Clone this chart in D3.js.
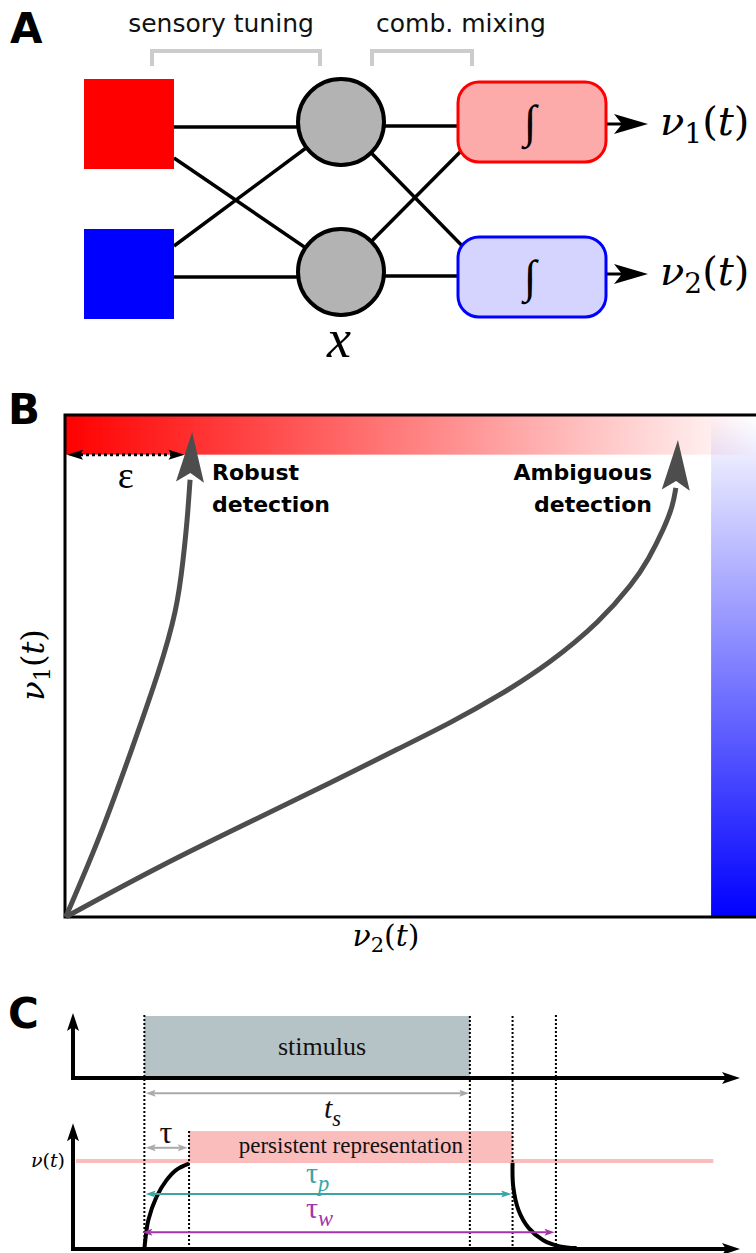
<!DOCTYPE html>
<html><head><meta charset="utf-8">
<script src="https://cdn.jsdelivr.net/npm/d3@7"></script>
<style>body{margin:0;background:#fff}svg{display:block}</style>
</head><body><svg id="c" width="756" height="1253"></svg>
<script>
// ================= DATA =================
// Panel A : network
const inputUnits = ["input 1", "input 2"];
const hiddenUnits = ["x1", "x2"];
const outputSubscripts = ["1", "2"];
const sensoryLinks = [[0, 0], [0, 1], [1, 0], [1, 1]];
const mixingLinks = [[0, 0], [0, 1], [1, 0], [1, 1]];
const bracketLabels = ["sensory tuning", "comb. mixing"];

// Panel B : trajectories (nu2, nu1 in % of plotted range)
const robustNu2 = [0.1, 5.1, 9.8, 13.7, 16.2, 17.1, 17.7, 18.1, 18.4];
const robustNu1 = [0, 15.9, 33.9, 49.2, 61.2, 71.1, 79.1, 87.1, 96.6];
const ambiguousNu2 = [0.1, 13.7, 28.2, 38.4, 48.5, 55.7, 63.0, 70.2, 77.4, 82.2, 84.4, 86.8, 88.0, 88.4, 88.7];
const ambiguousNu1 = [0, 10.2, 19.9, 26.7, 33.7, 38.6, 44.2, 50.6, 58.8, 66.5, 71.1, 77.7, 82.1, 85.5, 95.0];
const epsilon = 17.3;        // width of the robust band along nu2
const nu1BandStart = 92.1;   // red detection band (nu1)
const nu2BandStart = 93.5;   // blue detection band (nu2)
const trajectoryLabels = [["Robust", "detection"], ["Ambiguous", "detection"]];

// Panel C : timing (time in arbitrary units 0..100)
const stimulusOn = 10.7, stimulusOff = 59.5;
const tauEnd = 17.4, persistEnd = 65.9, windowEnd = 72.4;
const riseT = [10.7, 10.9, 11.3, 12.5, 14.0, 15.5, 17.4];
const riseNu = [0, 0.14, 0.33, 0.59, 0.78, 0.90, 0.97];
const decayT = [65.9, 66.0, 66.8, 68.3, 70.5, 73.0, 75.5];
const decayNu = [0.98, 0.71, 0.44, 0.24, 0.10, 0.03, 0.01];
const threshold = 1.0;
const persistTop = 1.34;

// ================= HELPERS =================
const svg = d3.select("#c");
const SERIF = "'Liberation Serif','DejaVu Serif',serif";
const MATH = "'DejaVu Serif','Liberation Serif',serif";
const SANS = "'DejaVu Sans',sans-serif";

function headPath(tip, from, L, W, notch) {
  const dx = tip[0] - from[0], dy = tip[1] - from[1], len = Math.hypot(dx, dy);
  const ux = dx / len, uy = dy / len, px = -uy, py = ux;
  const bx = tip[0] - ux * L, by = tip[1] - uy * L;
  const nx = tip[0] - ux * (L - notch), ny = tip[1] - uy * (L - notch);
  return `M${tip[0]},${tip[1]}L${bx + px * W / 2},${by + py * W / 2}L${nx},${ny}L${bx - px * W / 2},${by - py * W / 2}Z`;
}
function arrow(g, p1, p2, o) {
  const dx = p2[0] - p1[0], dy = p2[1] - p1[1], len = Math.hypot(dx, dy);
  const ux = dx / len, uy = dy / len, back = o.L - o.notch;
  const s = o.both ? [p1[0] + ux * back, p1[1] + uy * back] : p1;
  const e = [p2[0] - ux * back, p2[1] - uy * back];
  g.append("line").attr("x1", s[0]).attr("y1", s[1]).attr("x2", e[0]).attr("y2", e[1])
    .attr("stroke", o.color).attr("stroke-width", o.width)
    .attr("stroke-dasharray", o.dash || null);
  g.append("path").attr("d", headPath(p2, p1, o.L, o.W, o.notch)).attr("fill", o.color);
  if (o.both) g.append("path").attr("d", headPath(p1, p2, o.L, o.W, o.notch)).attr("fill", o.color);
}
function nuText(t, sub, size) {
  t.append("tspan").attr("font-style", "italic").text("ν");
  if (sub) t.append("tspan").attr("font-size", size * 0.7).attr("dy", size * 0.2).text(sub);
  t.append("tspan").attr("dy", sub ? -size * 0.2 : null).text("(");
  t.append("tspan").attr("font-style", "italic").text("t");
  t.append("tspan").text(")");
}
function panelLetter(txt, x, y) {
  svg.append("text").attr("x", x).attr("y", y).attr("font-family", SANS)
    .attr("font-weight", "bold").attr("font-size", 42).text(txt);
}

// ================= PANEL A =================
panelLetter("A", 10, 43);
const gA = svg.append("g");
const layerX = d3.scaleOrdinal().domain(["input", "hidden", "output"]).range([129, 341, 532]);
const rowY = d3.scalePoint().domain([0, 1]).range([124, 274]);
const inColors = ["#ff0000", "#0000ff"];
const outFill = ["#fcaaaa", "#d4d4ff"];
const outStroke = ["#ff0000", "#0000ff"];
const sq = 90, rad = 43, rw = 150, rh = 80;

// brackets
const brackets = [[152, 320], [372, 472]];
const brTextX = [221, 461];
bracketLabels.forEach((lab, i) => {
  gA.append("path").attr("d", `M${brackets[i][0]},66V51H${brackets[i][1]}V66`)
    .attr("fill", "none").attr("stroke", "#cccccc").attr("stroke-width", 4);
  gA.append("text").attr("x", brTextX[i]).attr("y", 32).attr("text-anchor", "middle")
    .attr("font-family", SANS).attr("font-size", 25).attr("fill", "#111").text(lab);
});

// links input -> hidden
sensoryLinks.forEach(([i, j]) => {
  const x1 = layerX("input") + sq / 2;
  if (i === j) {
    gA.append("line").attr("x1", x1).attr("y1", rowY(i) + 3).attr("x2", layerX("hidden")).attr("y2", rowY(j) + 3)
      .attr("stroke", "#000").attr("stroke-width", 3.5);
  } else {
    const y1 = rowY(i) + (i < j ? 34 : -28);
    gA.append("line").attr("x1", x1).attr("y1", y1).attr("x2", layerX("hidden")).attr("y2", rowY(j) - 2)
      .attr("stroke", "#000").attr("stroke-width", 3.5);
  }
});
// links hidden -> output
mixingLinks.forEach(([i, j]) => {
  if (i === j) {
    gA.append("line").attr("x1", layerX("hidden")).attr("y1", rowY(i) + 2).attr("x2", layerX("output")).attr("y2", rowY(j) + 2)
      .attr("stroke", "#000").attr("stroke-width", 3.5);
  } else {
    const y2 = i < j ? rowY(j) - 14 : rowY(j) + 12;
    gA.append("line").attr("x1", layerX("hidden")).attr("y1", rowY(i) - 2).attr("x2", 476).attr("y2", y2)
      .attr("stroke", "#000").attr("stroke-width", 3.5);
  }
});
// input squares
gA.selectAll("rect.in").data(inputUnits).join("rect").attr("class", "in")
  .attr("x", layerX("input") - sq / 2).attr("y", (d, i) => rowY(i) - sq / 2)
  .attr("width", sq).attr("height", sq).attr("fill", (d, i) => inColors[i]);
// hidden circles
gA.selectAll("circle.h").data(hiddenUnits).join("circle").attr("class", "h")
  .attr("cx", layerX("hidden")).attr("cy", (d, i) => rowY(i) - 2).attr("r", rad)
  .attr("fill", "#b3b3b3").attr("stroke", "#000").attr("stroke-width", 4);
// output integrators
outputSubscripts.forEach((s, i) => {
  const cy = rowY(i) + (i === 0 ? -2 : 3);
  gA.append("rect").attr("x", layerX("output") - rw / 2 + 1).attr("y", cy - rh / 2)
    .attr("width", rw - 2).attr("height", rh).attr("rx", 21).attr("ry", 21)
    .attr("fill", outFill[i]).attr("stroke", outStroke[i]).attr("stroke-width", 3);
  gA.append("text").attr("x", layerX("output") - 2).attr("y", cy + 15).attr("text-anchor", "middle")
    .attr("font-family", SERIF).attr("font-size", 46).attr("font-weight", "normal").text("∫");
  arrow(gA, [layerX("output") + rw / 2, rowY(i)], [648, rowY(i)], { color: "#000", width: 3, L: 34, W: 20, notch: 8 });
  const t = gA.append("text").attr("x", 660).attr("y", rowY(i) + 11)
    .attr("font-family", MATH).attr("font-size", 40);
  nuText(t, s, 40);
});
gA.append("text").attr("x", 339).attr("y", 357).attr("text-anchor", "middle")
  .attr("font-family", SERIF).attr("font-style", "italic").attr("font-size", 54).text("x");

// ================= PANEL B =================
panelLetter("B", 8, 424);
const gB = svg.append("g");
const xB = d3.scaleLinear().domain([0, 100]).range([65, 756]);
const yB = d3.scaleLinear().domain([0, 100]).range([917, 415]);
const defs = svg.append("defs");
const rg = defs.append("linearGradient").attr("id", "redGrad").attr("gradientUnits", "userSpaceOnUse")
  .attr("x1", xB(0)).attr("x2", xB(100)).attr("y1", 0).attr("y2", 0);
rg.append("stop").attr("offset", 0).attr("stop-color", "#ff0000").attr("stop-opacity", 1);
rg.append("stop").attr("offset", 1).attr("stop-color", "#ff0000").attr("stop-opacity", 0);
const bg = defs.append("linearGradient").attr("id", "blueGrad").attr("gradientUnits", "userSpaceOnUse")
  .attr("x1", 0).attr("x2", 0).attr("y1", yB(100)).attr("y2", yB(0));
bg.append("stop").attr("offset", 0).attr("stop-color", "#0000ff").attr("stop-opacity", 0);
bg.append("stop").attr("offset", 1).attr("stop-color", "#0000ff").attr("stop-opacity", 1);

gB.append("rect").attr("x", xB(0)).attr("y", yB(100)).attr("width", xB(100) - xB(0))
  .attr("height", yB(nu1BandStart) - yB(100)).attr("fill", "url(#redGrad)");
gB.append("rect").attr("x", xB(nu2BandStart)).attr("y", yB(100)).attr("width", xB(100) - xB(nu2BandStart))
  .attr("height", yB(0) - yB(100)).attr("fill", "url(#blueGrad)");

// frame
gB.append("path").attr("d", `M${xB(100) + 10},${yB(100)}H${xB(0)}V${yB(0)}H${xB(100) + 10}`)
  .attr("fill", "none").attr("stroke", "#000").attr("stroke-width", 3);

// epsilon arrow
arrow(gB, [xB(0) + 2, yB(nu1BandStart)], [xB(epsilon), yB(nu1BandStart)],
  { color: "#000", width: 3, L: 16, W: 10, notch: 3, both: true, dash: "3,3" });
gB.append("text").attr("x", xB(epsilon / 2) + 1).attr("y", 488).attr("text-anchor", "middle")
  .attr("font-family", SERIF).attr("font-size", 38).text("ε");

// trajectories
const lineB = d3.line().x(d => xB(d[0])).y(d => yB(d[1])).curve(d3.curveBasis);
[[robustNu2, robustNu1], [ambiguousNu2, ambiguousNu1]].forEach(([xs, ys]) => {
  const pts = xs.map((v, i) => [v, ys[i]]);
  const body = pts.slice(0, -1);
  gB.append("path").attr("d", lineB(body)).attr("fill", "none")
    .attr("stroke", "#4d4d4d").attr("stroke-width", 5);
  const tip = [xB(pts[pts.length - 1][0]), yB(pts[pts.length - 1][1])];
  const from = [xB(pts[pts.length - 2][0]), yB(pts[pts.length - 2][1])];
  gB.append("path").attr("d", headPath(tip, from, 50, 28, 9)).attr("fill", "#4d4d4d");
});
// labels
const lab1 = gB.append("text").attr("font-family", SANS).attr("font-weight", "bold").attr("font-size", 22);
lab1.append("tspan").attr("x", 212).attr("y", 480).text(trajectoryLabels[0][0]);
lab1.append("tspan").attr("x", 212).attr("y", 512).text(trajectoryLabels[0][1]);
const lab2 = gB.append("text").attr("font-family", SANS).attr("font-weight", "bold").attr("font-size", 22)
  .attr("text-anchor", "end");
lab2.append("tspan").attr("x", 652).attr("y", 480).text(trajectoryLabels[1][0]);
lab2.append("tspan").attr("x", 652).attr("y", 512).text(trajectoryLabels[1][1]);
// axis labels
const yl = gB.append("text").attr("transform", "translate(44,665) rotate(-90)").attr("text-anchor", "middle")
  .attr("font-family", MATH).attr("font-size", 32);
nuText(yl, "1", 32);
const xl = gB.append("text").attr("x", 386).attr("y", 946).attr("text-anchor", "middle")
  .attr("font-family", MATH).attr("font-size", 30);
nuText(xl, "2", 30);

// ================= PANEL C =================
panelLetter("C", 8, 1028);
const gC = svg.append("g");
const xC = d3.scaleLinear().domain([0, 100]).range([73, 740]);
const yTop = d3.scaleLinear().domain([0, 1]).range([1078, 1016]);
const yBot = d3.scaleLinear().domain([0, 1]).range([1249, 1161]);

// stimulus
gC.append("rect").attr("x", xC(stimulusOn)).attr("y", yTop(1)).attr("width", xC(stimulusOff) - xC(stimulusOn))
  .attr("height", yTop(0) - yTop(1)).attr("fill", "#b6c3c6");
gC.append("text").attr("x", 322).attr("y", yTop(0.37)).attr("text-anchor", "middle")
  .attr("font-family", SERIF).attr("font-size", 26).attr("fill", "#111").text("stimulus");

// threshold line & persistent representation
gC.append("line").attr("x1", xC(0.45)).attr("x2", xC(96)).attr("y1", yBot(threshold)).attr("y2", yBot(threshold))
  .attr("stroke", "#fbbcbc").attr("stroke-width", 4);
gC.append("rect").attr("x", xC(tauEnd)).attr("y", yBot(persistTop)).attr("width", xC(persistEnd) - xC(tauEnd))
  .attr("height", yBot(0.98) - yBot(persistTop)).attr("fill", "#fbbcbc");
gC.append("text").attr("x", (xC(tauEnd) + xC(persistEnd)) / 2).attr("y", 1153).attr("text-anchor", "middle")
  .attr("font-family", SERIF).attr("font-size", 23).attr("fill", "#111").text("persistent representation");

// dotted guides
[[stimulusOn, yTop(1) - 1], [stimulusOff, yTop(1)], [persistEnd, yTop(1)], [windowEnd, yTop(1) - 1], [tauEnd, yBot(persistTop)]]
  .forEach(([t, y0]) => {
    gC.append("line").attr("x1", xC(t)).attr("x2", xC(t)).attr("y1", y0).attr("y2", yBot(0))
      .attr("stroke", "#000").attr("stroke-width", 2).attr("stroke-dasharray", "2,2");
  });

// curves
const lineC = d3.line().x(d => xC(d[0])).y(d => yBot(d[1])).curve(d3.curveCatmullRom.alpha(0.5));
gC.append("path").attr("d", lineC(riseT.map((t, i) => [t, riseNu[i]]))).attr("fill", "none")
  .attr("stroke", "#000").attr("stroke-width", 4);
gC.append("path").attr("d", lineC(decayT.map((t, i) => [t, decayNu[i]]))).attr("fill", "none")
  .attr("stroke", "#000").attr("stroke-width", 4);

// axes
const axOpt = { color: "#000", width: 4, L: 18, W: 12, notch: 4 };
arrow(gC, [xC(0), yTop(0) + 2], [xC(0), yTop(1.05)], axOpt);
arrow(gC, [xC(0) - 2, yTop(0)], [xC(100), yTop(0)], axOpt);
arrow(gC, [xC(0), yBot(0) + 2], [xC(0), yBot(1.43)], axOpt);
arrow(gC, [xC(0) - 2, yBot(0)], [xC(100), yBot(0)], axOpt);

// measurement arrows
const small = { width: 2, L: 10, W: 7, notch: 2, both: true };
arrow(gC, [xC(10.9), yBot(1.77)], [xC(59.4), yBot(1.77)], Object.assign({ color: "#aaaaaa" }, small));
arrow(gC, [xC(10.9), yBot(1.15)], [xC(17.2), yBot(1.15)], Object.assign({ color: "#aaaaaa" }, small));
arrow(gC, [xC(10.9), yBot(0.625)], [xC(65.7), yBot(0.625)], Object.assign({ color: "#3aa5a5" }, small));
arrow(gC, [xC(10.4), yBot(0.19)], [xC(72.2), yBot(0.19)], Object.assign({ color: "#a236a8" }, small));

// labels
function subLabel(x, y, main, sub, color, size) {
  const t = gC.append("text").attr("x", x).attr("y", y).attr("font-family", SERIF)
    .attr("font-size", size).attr("fill", color);
  t.append("tspan").attr("font-style", main === "t" ? "italic" : null).text(main);
  t.append("tspan").attr("font-style", "italic").attr("font-size", size * 0.75).attr("dy", size * 0.25).text(sub);
}
subLabel(324, 1118, "t", "s", "#111", 30);
subLabel(306, 1183, "τ", "p", "#3aa5a5", 30);
subLabel(306, 1218, "τ", "w", "#a236a8", 30);
gC.append("text").attr("x", 166).attr("y", 1143).attr("text-anchor", "middle")
  .attr("font-family", SERIF).attr("font-size", 32).attr("fill", "#111").text("τ");
const nl = gC.append("text").attr("x", 65).attr("y", 1167).attr("text-anchor", "end")
  .attr("font-family", MATH).attr("font-size", 19);
nuText(nl, null, 19);
</script></body></html>
